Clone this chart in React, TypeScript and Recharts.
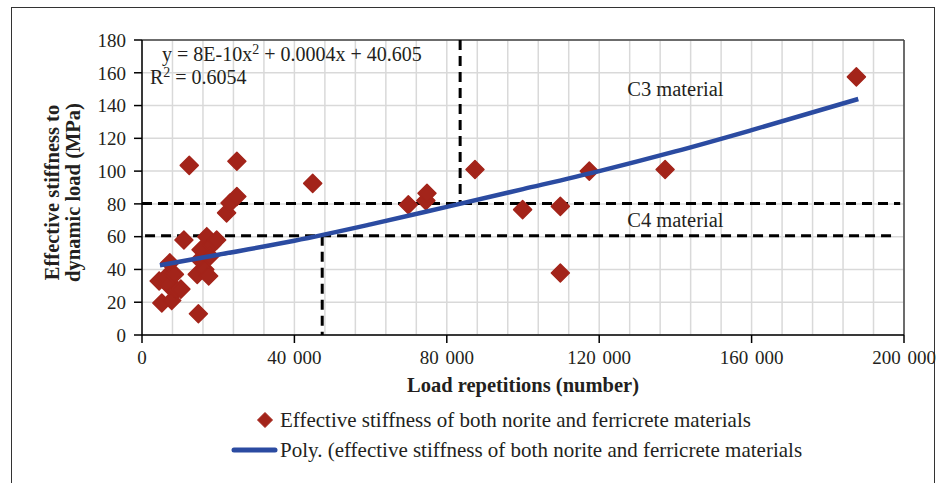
import React from 'react';
import {
  ScatterChart,
  Scatter,
  XAxis,
  YAxis,
  CartesianGrid,
  ReferenceLine,
  ReferenceDot,
  Legend,
  Label,
} from 'recharts';

const FONT = '"Liberation Serif", "Times New Roman", serif';
const TEXT = '#231f20';
const RED = '#A3241A';
const BLUE = '#2B4BA1';

// Measured points: load repetitions and effective stiffness (MPa)
const loadReps = [
  4500, 5200, 6200, 6900, 7300, 7800, 8500, 9100, 10200, 11000,
  12400, 14800, 14500, 15200, 15500, 16500, 17000, 17500, 18300, 19600,
  17800, 22200, 23100, 24900, 24900, 44800, 69900, 74500, 74800, 87400,
  99900, 109800, 109800, 117400, 137300, 187500,
];
const stiffness = [
  33, 19.5, 35, 30.5, 44, 21, 37, 27.5, 28, 58,
  103.5, 13, 37, 46, 52, 40, 60, 36, 55, 58,
  48, 74.5, 80.5, 84.5, 106, 92.5, 79.5, 82, 86.5, 101,
  76.5, 78.5, 37.8, 100, 101, 157.5,
];

// Polynomial trend line
const trendX = [4700, 20000, 40000, 60000, 80000, 100000, 120000, 140000, 160000, 188000];
const trendY = [42.6, 49, 57.5, 67.5, 78.2, 89, 100, 112, 125, 144];

const xTicks = [
  0, 8000, 16000, 24000, 32000, 40000, 48000, 56000, 64000, 72000, 80000,
  88000, 96000, 104000, 112000, 120000, 128000, 136000, 144000, 152000,
  160000, 168000, 176000, 184000, 192000, 200000,
];
const xLabelTicks = [0, 40000, 80000, 120000, 160000, 200000];
const yTicks = [0, 20, 40, 60, 80, 100, 120, 140, 160, 180];

const seriesName = 'Effective stiffness of both norite and ferricrete materials';
const trendName = 'Poly. (effective stiffness of both norite and ferricrete materials';

const points = loadReps.map((x, i) => ({ x, y: stiffness[i] }));
const trend = trendX.map((x, i) => ({ x, y: trendY[i] }));

const fmt = (v: number) => String(v).replace(/\B(?=(\d{3})+(?!\d))/g, ' ');

const Diamond = (props: any) => {
  const { cx, cy } = props;
  const r = 9;
  return (
    <path
      d={`M${cx},${cy - r} L${cx + r},${cy} L${cx},${cy + r} L${cx - r},${cy} Z`}
      fill={RED}
      stroke={RED}
      strokeWidth={1.5}
      strokeLinejoin="round"
    />
  );
};

const NoShape = () => <g />;

const XTick = (props: any) => {
  const { x, y, payload } = props;
  const v = payload.value;
  if (!xLabelTicks.includes(v)) return <g />;
  return (
    <g>
      <line x1={x} x2={x} y1={y} y2={y + 8} stroke="#000" strokeWidth={1.5} />
      <text
        x={x}
        y={y + 29}
        textAnchor="middle"
        fontFamily={FONT}
        fontSize={19}
        fill={TEXT}
        style={{ wordSpacing: '2px' }}
      >
        {fmt(v)}
      </text>
    </g>
  );
};

const XTitle = (props: any) => {
  const { viewBox } = props;
  return (
    <text
      x={viewBox.x + viewBox.width / 2}
      y={viewBox.y + 57}
      textAnchor="middle"
      fontFamily={FONT}
      fontSize={20.5}
      fontWeight="bold"
      fill={TEXT}
    >
      Load repetitions (number)
    </text>
  );
};

const YTitle = (props: any) => {
  const { viewBox } = props;
  const cy = viewBox.y + viewBox.height / 2 + 5;
  const cx = 59;
  return (
    <text
      transform={`rotate(-90, ${cx}, ${cy})`}
      x={cx}
      y={cy}
      textAnchor="middle"
      fontFamily={FONT}
      fontSize={20.5}
      fontWeight="bold"
      fill={TEXT}
    >
      <tspan x={cx} dy={0}>Effective stiffness to</tspan>
      <tspan x={cx} dy={21}>dynamic load (MPa)</tspan>
    </text>
  );
};

const EqLabel = (props: any) => {
  const { viewBox } = props;
  const x = viewBox.x;
  const y = viewBox.y;
  return (
    <g fontFamily={FONT} fontSize={20} fill={TEXT}>
      <text x={x + 20} y={y + 21}>
        y = 8E-10x<tspan dy={-7} fontSize={14}>2</tspan>
        <tspan dy={7}> + 0.0004x + 40.605</tspan>
      </text>
      <text x={x + 8} y={y + 44}>
        R<tspan dy={-7} fontSize={14}>2</tspan>
        <tspan dy={7}> = 0.6054</tspan>
      </text>
    </g>
  );
};

const LegendContent = () => (
  <div style={{ fontFamily: FONT, fontSize: 21, color: TEXT, whiteSpace: 'nowrap' }}>
    <div style={{ display: 'flex', alignItems: 'center', height: 30 }}>
      <svg width={50} height={30}>
        <path d="M35,7.5 L42.5,15 L35,22.5 L27.5,15 Z" fill={RED} stroke={RED} strokeLinejoin="round" />
      </svg>
      <span>{seriesName}</span>
    </div>
    <div style={{ display: 'flex', alignItems: 'center', height: 30 }}>
      <svg width={50} height={30}>
        <line x1={4} x2={45} y1={15} y2={15} stroke={BLUE} strokeWidth={5} strokeLinecap="round" />
      </svg>
      <span>{trendName}</span>
    </div>
  </div>
);

const dash = { stroke: '#000', strokeWidth: 3, strokeDasharray: '10 6' };

export default function App() {
  return (
    <div style={{ position: 'fixed', left: 0, top: 0, width: 940, height: 483, background: '#fff', overflow: 'hidden' }}>
      <div
        style={{
          position: 'absolute',
          left: 11,
          top: 7,
          width: 924,
          height: 500,
          borderTop: '1.5px solid #333',
          borderLeft: '1.5px solid #333',
          borderRight: '1.5px solid #333',
          boxSizing: 'border-box',
        }}
      />
      <div style={{ position: 'absolute', left: 0, top: 0 }}>
        <ScatterChart width={940} height={483} margin={{ top: 40, right: 36, bottom: 88, left: 0 }}>
          <CartesianGrid stroke="#d9d9d9" strokeWidth={1.5} />
          <XAxis
            type="number"
            dataKey="x"
            domain={[0, 200000]}
            ticks={xTicks}
            interval={0}
            height={60}
            tickSize={0}
            tickMargin={0}
            tickLine={false}
            tick={<XTick />}
            axisLine={{ stroke: '#000', strokeWidth: 1.5 }}
          >
            <Label content={<XTitle />} />
          </XAxis>
          <YAxis
            type="number"
            dataKey="y"
            domain={[0, 180]}
            ticks={yTicks}
            interval={0}
            width={142}
            tickSize={8}
            tickMargin={8}
            tick={{ fontFamily: FONT, fontSize: 19, fill: TEXT }}
            tickLine={{ stroke: '#000', strokeWidth: 1.5 }}
            axisLine={{ stroke: '#000', strokeWidth: 1.5 }}
          >
            <Label content={<YTitle />} />
          </YAxis>
          <ReferenceLine y={180} stroke="#444" strokeWidth={1.5} />
          <ReferenceLine x={200000} stroke="#444" strokeWidth={1.5} />
          <ReferenceLine segment={[{ x: 0, y: 80.3 }, { x: 199000, y: 80.3 }]} {...dash} />
          <ReferenceLine segment={[{ x: 800, y: 60.6 }, { x: 198000, y: 60.6 }]} {...dash} />
          <ReferenceLine segment={[{ x: 83500, y: 180 }, { x: 83500, y: 80.3 }]} {...dash} />
          <ReferenceLine segment={[{ x: 47300, y: 60.6 }, { x: 47300, y: 0 }]} {...dash} />
          <ReferenceDot x={0} y={180} r={0} fill="none" stroke="none" label={<EqLabel />} />
          <ReferenceDot
            x={140000}
            y={150}
            r={0}
            fill="none"
            stroke="none"
            label={{ value: 'C3 material', position: 'center', fill: TEXT, fontSize: 20.5, fontFamily: FONT }}
          />
          <ReferenceDot
            x={140000}
            y={70.4}
            r={0}
            fill="none"
            stroke="none"
            label={{ value: 'C4 material', position: 'center', fill: TEXT, fontSize: 20.5, fontFamily: FONT }}
          />
          <Scatter
            name={seriesName}
            data={points}
            shape={<Diamond />}
            isAnimationActive={false}
          />
          <Scatter
            name={trendName}
            data={trend}
            shape={<NoShape />}
            line={{ stroke: BLUE, strokeWidth: 4.5 }}
            lineJointType="monotoneX"
            isAnimationActive={false}
          />
          <Legend
            layout="vertical"
            align="center"
            verticalAlign="middle"
            wrapperStyle={{ left: 230, top: 405 }}
            content={<LegendContent />}
          />
        </ScatterChart>
      </div>
    </div>
  );
}
